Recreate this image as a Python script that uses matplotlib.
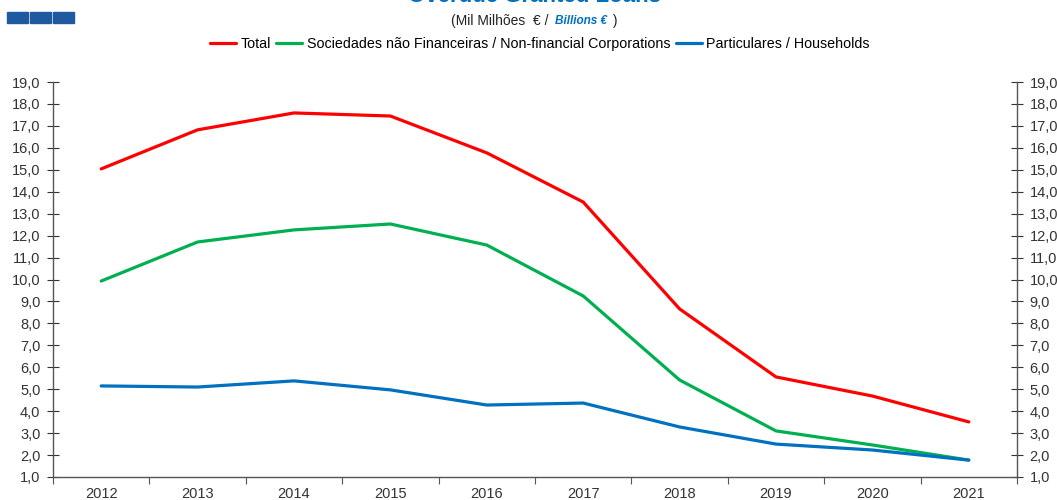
import matplotlib.pyplot as plt
from matplotlib.ticker import FixedLocator, FuncFormatter
from matplotlib.patches import Rectangle

plt.rcParams['font.family'] = ['Liberation Sans', 'DejaVu Sans']

years = ['2012', '2013', '2014', '2015', '2016', '2017', '2018', '2019', '2020', '2021']
total = [15.04, 16.82, 17.59, 17.45, 15.77, 13.53, 8.66, 5.56, 4.69, 3.51]
nfc = [9.93, 11.71, 12.26, 12.53, 11.57, 9.25, 5.42, 3.10, 2.46, 1.77]
households = [5.15, 5.10, 5.38, 4.97, 4.28, 4.37, 3.28, 2.50, 2.23, 1.77]

labels = ['Total', 'Sociedades não Financeiras / Non-financial Corporations', 'Particulares / Households']
colors = ['#ff0000', '#00b050', '#0070c0']

fig = plt.figure(figsize=(10.57, 5.0), dpi=100)
ax = fig.add_axes([53 / 1057, 23 / 500, 964 / 1057, 395 / 500])

x = range(len(years))
for series, lab, c in zip([total, nfc, households], labels, colors):
    ax.plot(x, series, color=c, lw=2.3, label=lab, solid_capstyle='round')

ax.set_xlim(-0.5, len(years) - 0.5)
ax.set_ylim(1, 19)
ax.yaxis.set_major_locator(FixedLocator(range(1, 20)))
ax.yaxis.set_major_formatter(FuncFormatter(lambda v, p: f'{v:.1f}'.replace('.', ',')))
ax.set_xticks([i - 0.5 for i in range(len(years) + 1)])
ax.set_xticklabels([])
ax.set_xticks(list(x), minor=True)
ax.set_xticklabels(years, minor=True)
ax.tick_params(axis='x', which='minor', length=0, pad=7, labelsize=10.5, colors='#333333')
ax.tick_params(axis='x', which='major', length=5, direction='out', color='#555555')
ax.tick_params(axis='y', which='major', direction='inout', length=8, labelsize=10.5,
               colors='#333333', left=True, right=True, labelleft=True, labelright=True, pad=5)
ax.spines['top'].set_visible(False)
for s in ['left', 'right', 'bottom']:
    ax.spines[s].set_color('#555555')
    ax.spines[s].set_linewidth(1.0)

ax.legend(loc='lower center', bbox_to_anchor=(0.505, 1.045), ncol=3, frameon=False,
          fontsize=10.3, handlelength=1.8, handletextpad=0.3, columnspacing=0.4)

fig.text(0.506, 1.008, 'Overdue Granted Loans', ha='center', va='center', fontsize=16,
         fontweight='bold', color='#0070c0')
fig.text(0.523, 0.957, '(Mil Milhões  € / ', ha='right', va='center', fontsize=10, color='#222222')
fig.text(0.525, 0.957, 'Billions €', ha='left', va='center', fontsize=8.5, color='#0070c0',
         fontweight='bold', style='italic')
fig.text(0.576, 0.957, ' )', ha='left', va='center', fontsize=10, color='#222222')

for i in range(3):
    fig.patches.append(Rectangle(((7 + i * 23) / 1057, 1 - 23 / 500), 21 / 1057, 11 / 500,
                                 transform=fig.transFigure, color='#1f5aa0'))

fig.savefig('out.png', dpi=100)
